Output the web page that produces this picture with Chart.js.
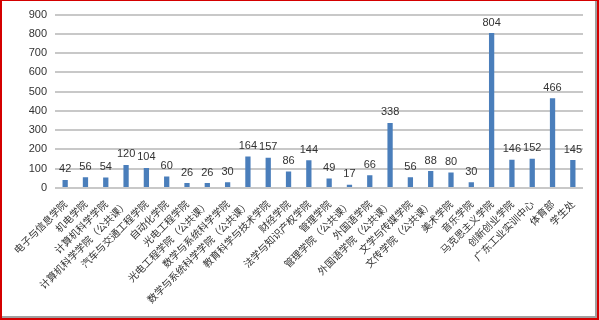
<!DOCTYPE html>
<html><head><meta charset="utf-8">
<script src="https://cdn.jsdelivr.net/npm/chart.js@4/dist/chart.umd.min.js"></script>
<style>
html,body{margin:0;padding:0;background:#fff;}
#wrap{position:relative;width:599px;height:320px;}
#frame{position:absolute;left:0;top:0;width:599px;height:320px;box-sizing:border-box;border:2px solid #d40000;border-top-width:1px;box-shadow:inset -2px -2px 0 #a0a0a0;pointer-events:none;}
</style></head>
<body><div id="wrap"><canvas id="c" width="599" height="320"></canvas><div id="frame"></div></div>
<script>
const categories = ["电子与信息学院","机电学院","计算机科学学院","计算机科学学院（公共课）","汽车与交通工程学院","自动化学院","光电工程学院","光电工程学院（公共课）","数学与系统科学学院","数学与系统科学学院（公共课）","教育科学与技术学院","财经学院","法学与知识产权学院","管理学院","管理学院（公共课）","外国语学院","外国语学院（公共课）","文学与传媒学院","文传学院（公共课）","美术学院","音乐学院","马克思主义学院","创新创业学院","广东工业实训中心","体育部","学生处"];
const values = [42,56,54,120,104,60,26,26,30,164,157,86,144,49,17,66,338,56,88,80,30,804,146,152,466,145];
const yTicks = [0,100,200,300,400,500,600,700,800,900];

const valueLabels = {
  id:'valueLabels',
  afterDatasetsDraw(chart){
    const ctx = chart.ctx;
    const meta = chart.getDatasetMeta(0);
    ctx.save();
    ctx.font = '11px "Liberation Sans", Arial, sans-serif';
    ctx.fillStyle = '#333';
    ctx.textAlign = 'center';
    ctx.textBaseline = 'bottom';
    meta.data.forEach((bar,i)=>{
      ctx.fillText(String(values[i]), bar.x, bar.y - 5);
    });
    ctx.restore();
  }
};

new Chart(document.getElementById('c'), {
  type:'bar',
  data:{labels:categories, datasets:[{data:values, backgroundColor:'#4a7ebb', borderColor:'#3f72ad', borderWidth:0, barPercentage:0.26, categoryPercentage:1}]},
  options:{
    responsive:false, animation:false,
    layout:{padding:{left:0,right:16,top:10,bottom:0}},
    plugins:{legend:{display:false}, tooltip:{enabled:false}},
    scales:{
      x:{
        grid:{display:false},
        border:{display:false},
        ticks:{autoSkip:false, maxRotation:45, minRotation:45, padding:2, color:'#333', font:{family:'"Noto Sans CJK SC"', size:10}},
        afterFit(s){ s.height = 132; }
      },
      y:{
        min:0, max:900,
        afterBuildTicks(s){ const t=[]; for(let v=0; v<=900; v+=20) t.push({value:v}); s.ticks=t; },
        afterFit(s){ s.width = 55; },
        grid:{
          color:(c)=> (c.tick && c.tick.value%100===0) ? '#c8c8c8' : '#f1efe2',
          lineWidth:(c)=> (c.tick && c.tick.value%100===0) ? 2 : 1,
          drawTicks:false
        },
        border:{display:false},
        ticks:{
          padding:8, color:'#333', font:{family:'"Liberation Sans", Arial, sans-serif', size:11},
          callback:(v)=> yTicks.includes(v) ? String(v) : ''
        }
      }
    }
  },
  plugins:[valueLabels]
});
</script></body></html>
